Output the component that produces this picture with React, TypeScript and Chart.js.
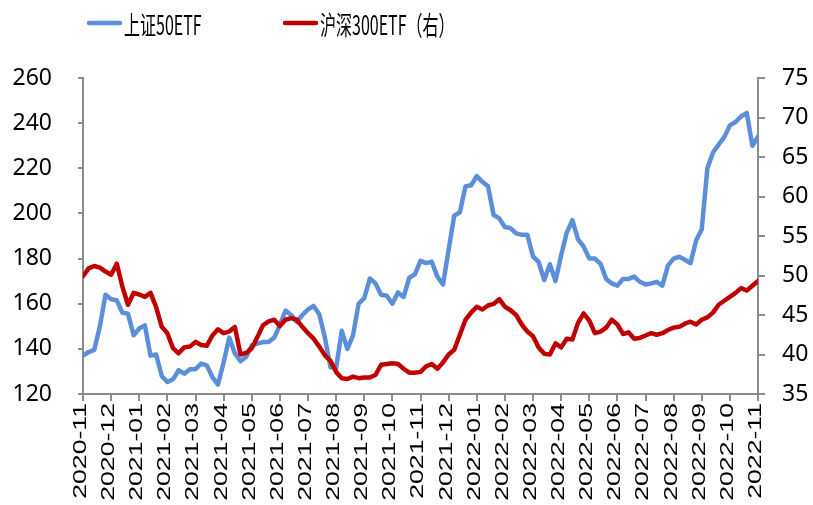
import React, { useEffect, useRef } from "react";
import { Chart, registerables } from "chart.js";

Chart.register(...registerables);

// Month tick labels (one per month boundary)
const monthLabels = [
  "2020-11", "2020-12", "2021-01", "2021-02", "2021-03", "2021-04", "2021-05",
  "2021-06", "2021-07", "2021-08", "2021-09", "2021-10", "2021-11", "2021-12",
  "2022-01", "2022-02", "2022-03", "2022-04", "2022-05", "2022-06", "2022-07",
  "2022-08", "2022-09", "2022-10", "2022-11",
];

// Samples per month (roughly weekly observations)
const samplesPerMonth = 5;

const seriesNames = ["上证50ETF", "沪深300ETF（右）"];

// 上证50ETF (left axis)
const sz50 = [
  137, 138.6, 139.5, 150, 164,
  162, 161.5, 156, 155.6, 146,
  149, 150.4, 137, 137.5, 128,
  125.3, 126.5, 130.5, 129, 131,
  131, 133.5, 132.7, 127.5, 124.2,
  134, 145, 138, 134.5, 136.4,
  141.6, 142.3, 143, 143, 145,
  150.5, 157, 155, 152, 155,
  157.5, 159, 155.3, 145, 131.8,
  131.5, 148, 140, 146, 160,
  162.5, 171.2, 169, 164, 163.5,
  160, 165, 163, 171.5, 173,
  179, 178, 178.6, 172, 168.5,
  184, 199, 200.5, 212, 212.5,
  216.5, 214, 212, 199.3, 197.8,
  194, 193.5, 191.2, 190.5, 190.5,
  181, 178.5, 170.5, 177.5, 170,
  181.5, 191.5, 197, 188.5, 185.3,
  180, 180, 177.7, 171, 169,
  168, 171, 171, 172, 169.7,
  168.5, 169, 169.7, 168, 177,
  180, 180.8, 179.5, 178, 188,
  193, 220, 227, 230.5, 233.8,
  239, 240.5, 243, 244.5, 230,
  234,
];

// 沪深300ETF (right axis)
const hs300 = [
  49.9, 50.9, 51.2, 51.0, 50.5,
  50.1, 51.5, 48.6, 46.3, 47.8,
  47.6, 47.3, 47.8, 46.0, 43.5,
  42.7, 40.8, 40.15, 40.9, 41.0,
  41.6, 41.2, 41.1, 42.4, 43.2,
  42.7, 42.9, 43.5, 40.0, 40.2,
  40.8, 42.2, 43.7, 44.2, 44.4,
  43.6, 44.4, 44.6, 44.4, 43.5,
  42.7, 42.0, 41.0, 39.9, 39.2,
  37.8, 37.0, 36.9, 37.2, 37.0,
  37.1, 37.1, 37.4, 38.7, 38.8,
  38.9, 38.8, 38.2, 37.7, 37.7,
  37.8, 38.5, 38.8, 38.2, 39.0,
  40.0, 40.6, 42.5, 44.4, 45.3,
  46.05, 45.7, 46.2, 46.4, 47.0,
  46.05, 45.6, 45.0, 43.8, 42.9,
  42.3, 40.9, 40.1, 40.0, 41.4,
  40.9, 42.0, 41.9, 44.0, 45.2,
  44.3, 42.7, 42.9, 43.4, 44.4,
  43.8, 42.6, 42.8, 42.0, 42.1,
  42.4, 42.7, 42.5, 42.7, 43.1,
  43.4, 43.5, 43.9, 44.15, 43.8,
  44.4, 44.7, 45.3, 46.3, 46.8,
  47.3, 47.8, 48.4, 48.1, 48.7,
  49.3,
];

const leftTicks = { min: 120, max: 260, step: 20 };
const rightTicks = { min: 35, max: 75, step: 5 };

const BLUE = "#5B8FDA";
const RED = "#C00000";
const AXIS = "#8C8C8C";

const customText = {
  id: "customText",
  afterDraw(chart: any) {
    const ctx = chart.ctx as CanvasRenderingContext2D;
    const xs = chart.scales.x;
    const area = chart.chartArea;
    ctx.save();
    ctx.fillStyle = "#000";
    // x-axis month labels, rotated and elongated
    ctx.font = "18px 'Liberation Sans', Arial, sans-serif";
    ctx.textAlign = "right";
    ctx.textBaseline = "middle";
    monthLabels.forEach((lab, i) => {
      const px = xs.getPixelForValue(i) - 2;
      ctx.save();
      ctx.translate(px, area.bottom + 9);
      ctx.rotate(-Math.PI / 2);
      ctx.scale(1.48, 1);
      ctx.fillText(lab, 0, 0);
      ctx.restore();
    });
    // legend
    const colors = [BLUE, RED];
    const starts = [87, 283];
    seriesNames.forEach((name, i) => {
      const x0 = starts[i];
      ctx.strokeStyle = colors[i];
      ctx.lineWidth = 4.5;
      ctx.lineCap = "round";
      ctx.beginPath();
      ctx.moveTo(x0 + 2, 23);
      ctx.lineTo(x0 + 33, 23);
      ctx.stroke();
      ctx.save();
      ctx.translate(x0 + 37, 25);
      ctx.scale(1, 1.65);
      ctx.font = "16px 'Noto Sans CJK SC', sans-serif";
      ctx.textAlign = "left";
      ctx.textBaseline = "middle";
      ctx.fillStyle = "#000";
      ctx.fillText(name, 0, 0);
      ctx.restore();
    });
    ctx.restore();
  },
};

export default function App() {
  const ref = useRef<HTMLCanvasElement | null>(null);

  useEffect(() => {
    if (!ref.current) return;
    const toPoints = (arr: number[]) =>
      arr.map((v, i) => ({ x: i / samplesPerMonth, y: v }));

    const chart = new Chart(ref.current, {
      type: "line",
      data: {
        datasets: [
          {
            label: seriesNames[0],
            data: toPoints(sz50),
            borderColor: BLUE,
            backgroundColor: BLUE,
            borderWidth: 4.5,
            pointRadius: 0,
            tension: 0,
            yAxisID: "y",
            order: 1,
            borderJoinStyle: "round",
            borderCapStyle: "round",
          },
          {
            label: seriesNames[1],
            data: toPoints(hs300),
            borderColor: RED,
            backgroundColor: RED,
            borderWidth: 4.5,
            pointRadius: 0,
            tension: 0,
            yAxisID: "y1",
            order: 0,
            borderJoinStyle: "round",
            borderCapStyle: "round",
          },
        ],
      },
      options: {
        animation: false,
        responsive: false,
        devicePixelRatio: 1,
        layout: { padding: { top: 78, left: 0, right: 0, bottom: 0 } },
        plugins: {
          legend: { display: false },
          tooltip: { enabled: false },
        },
        scales: {
          x: {
            type: "linear",
            min: 0,
            max: monthLabels.length - 1,
            ticks: { stepSize: 1, display: false },
            grid: {
              drawOnChartArea: false,
              drawTicks: true,
              tickLength: 7,
              color: AXIS,
              lineWidth: 2,
            },
            border: { display: true, color: AXIS, width: 2 },
            afterFit: (s: any) => {
              s.height = 111;
            },
          },
          y: {
            type: "linear",
            position: "left",
            min: leftTicks.min,
            max: leftTicks.max,
            ticks: {
              stepSize: leftTicks.step,
              color: "#000",
              padding: 26,
              font: { family: "'Noto Sans', sans-serif", size: 23 },
            },
            grid: {
              drawOnChartArea: false,
              drawTicks: true,
              tickLength: 5,
              color: AXIS,
              lineWidth: 2,
            },
            border: { display: true, color: AXIS, width: 2 },
            afterFit: (s: any) => {
              s.width = 83;
            },
          },
          y1: {
            type: "linear",
            position: "right",
            min: rightTicks.min,
            max: rightTicks.max,
            ticks: {
              stepSize: rightTicks.step,
              color: "#000",
              padding: 17,
              font: { family: "'Noto Sans', sans-serif", size: 23 },
            },
            grid: {
              drawOnChartArea: false,
              drawTicks: true,
              tickLength: 7,
              color: AXIS,
              lineWidth: 2,
            },
            border: { display: true, color: AXIS, width: 2 },
            afterFit: (s: any) => {
              s.width = 55;
            },
          },
        },
      },
      plugins: [customText],
    } as any);
    return () => chart.destroy();
  }, []);

  return (
    <div style={{ position: "absolute", left: 0, top: 0, width: 813, height: 505, background: "#fff" }}>
      <canvas ref={ref} width={813} height={505} style={{ display: "block" }} />
    </div>
  );
}
